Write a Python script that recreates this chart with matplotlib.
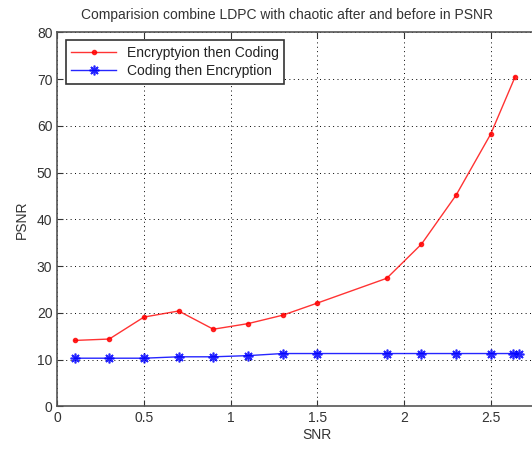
import matplotlib
matplotlib.use("Agg")
import matplotlib.pyplot as plt

snr_red = [0.1, 0.3, 0.5, 0.7, 0.9, 1.1, 1.3, 1.5, 1.9, 2.1, 2.3, 2.5, 2.64]
psnr_red = [14.1, 14.4, 19.1, 20.4, 16.5, 17.7, 19.5, 22.1, 27.4, 34.7, 45.2, 58.3, 70.5]
snr_blue = [0.1, 0.3, 0.5, 0.7, 0.9, 1.1, 1.3, 1.5, 1.9, 2.1, 2.3, 2.5, 2.63, 2.66]
psnr_blue = [10.3, 10.3, 10.3, 10.6, 10.6, 10.85, 11.3, 11.3, 11.3, 11.3, 11.3, 11.3, 11.3, 11.3]
xticks = [0, 0.5, 1, 1.5, 2, 2.5]
yticks = [0, 10, 20, 30, 40, 50, 60, 70, 80]

plt.rcParams['font.family'] = ['Liberation Sans', 'DejaVu Sans']
fig = plt.figure(figsize=(5.32, 4.5), dpi=100)
ax = fig.add_axes([0.1076, 0.097, 0.978, 0.831])

ax.plot(snr_red, psnr_red, color='#ff0000', marker='.', markersize=6, linewidth=1, label='Encryptyion then Coding', alpha=0.8)
ax.plot(snr_blue, psnr_blue, color='#0000ff', marker=(8, 2, 0), markersize=7, markeredgewidth=1.2,
        linewidth=1, label='Coding then Encryption', alpha=0.85)

ax.set_xlim(0, 3)
ax.set_ylim(0, 80)
ax.set_xticks(xticks)
ax.set_xticklabels([str(t) for t in xticks])
ax.set_yticks(yticks)
ax.grid(True, linestyle=(0, (1, 3.5)), color='black', linewidth=0.7)
ax.tick_params(direction='in', top=True, right=False, labelsize=10, colors='#333333', length=4)
for s in ax.spines.values():
    s.set_color('#555555')
    s.set_linewidth(1.2)

ax.set_xlabel('SNR', fontsize=10, color='#333333', labelpad=2)
ax.set_ylabel('PSNR', fontsize=10, color='#333333', labelpad=6)
fig.text(0.54, 0.95, 'Comparision combine LDPC with chaotic after and before in PSNR',
         fontsize=10, color='#333333', ha='center', va='bottom')

leg = ax.legend(loc='upper left', fontsize=10, fancybox=False, framealpha=1, borderpad=0.4,
                handlelength=3.2, edgecolor='#333333', bbox_to_anchor=(0.003, 0.997), labelspacing=0.3)
leg.get_frame().set_linewidth(1.2)
for t in leg.get_texts():
    t.set_color('#222222')

fig.savefig('out.png', dpi=100)
